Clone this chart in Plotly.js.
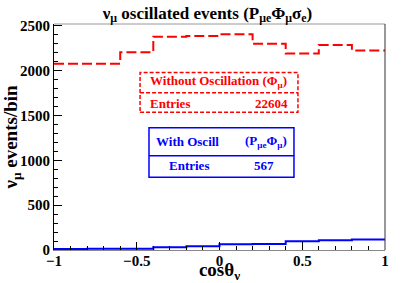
<!DOCTYPE html>
<html>
<head>
<meta charset="utf-8">
<script src="https://cdn.plot.ly/plotly-3.0.1.min.js"></script>
<style>html,body{margin:0;padding:0;background:#fff;}#plot{width:415px;height:283px;}</style>
</head>
<body>
<div id="plot"></div>
<script>
// bin edges in cos(theta_nu)
const binEdges = [-1, -0.8, -0.6, -0.4, -0.2, 0, 0.2, 0.4, 0.6, 0.8, 1];
// Without oscillation (Phi_mu), events per bin
const noOscCounts = [2076, 2076, 2205, 2378, 2385, 2405, 2300, 2190, 2285, 2225];
// With oscillation (P_mue Phi_mu), events per bin
const oscCounts = [12, 13, 15, 31, 42, 65, 66, 98, 109, 117];
const noOscEntries = "22604";
const oscEntries = "567";

function stepY(counts){ return counts.concat([counts[counts.length-1]]); }

const F = "Liberation Serif";

const traces = [
  {x: binEdges, y: stepY(noOscCounts), type: 'scatter', mode: 'lines',
   line: {shape: 'hv', color: '#ff0000', width: 2, dash: '10px,4px'}, hoverinfo: 'skip'},
  {x: binEdges, y: stepY(oscCounts), type: 'scatter', mode: 'lines',
   line: {shape: 'hv', color: '#0000ff', width: 2}, hoverinfo: 'skip'}
];

function fnt(size, color){ return {family: F, size: size, color: color || '#000', weight: 'bold'}; }

const layout = {
  width: 415, height: 283,
  margin: {l: 54, r: 30, t: 24, b: 33},
  paper_bgcolor: '#fff', plot_bgcolor: '#fff',
  showlegend: false,
  font: {family: F, color: '#000'},
  title: {text: 'ν<sub>μ</sub> oscillated events (P<sub>μe</sub>Φ<sub>μ</sub>σ<sub>e</sub>)',
          font: fnt(17), x: 0.5, xanchor: 'center', yref: 'container', y: 0.955, yanchor: 'middle'},
  xaxis: {range: [-1, 1], showgrid: false, zeroline: false, showline: true, linecolor: '#888', linewidth: 1,
          ticks: 'inside', ticklen: 8, tickcolor: '#000', dtick: 0.5, tick0: 0,
          minor: {ticks: 'inside', ticklen: 4, dtick: 0.1, tickcolor: '#000'},
          tickfont: fnt(15), ticklabelstandoff: -3,
          title: {text: 'cosθ<sub>ν</sub>', font: fnt(19), standoff: 2}},
  yaxis: {range: [0, 2520], showgrid: false, zeroline: false, showline: true, linecolor: '#000', linewidth: 1,
          ticks: 'inside', ticklen: 8, tickcolor: '#000', dtick: 500, tick0: 0,
          minor: {ticks: 'inside', ticklen: 4, dtick: 100, tickcolor: '#000'},
          tickfont: fnt(15),
          title: {text: 'ν<sub>μ</sub> events/bin', font: fnt(19), standoff: 4}},
  shapes: [
    {type: 'line', xref: 'paper', yref: 'paper', x0: 0, x1: 1, y0: 1, y1: 1, line: {color: '#999', width: 1}},
    {type: 'line', xref: 'paper', yref: 'paper', x0: 1, x1: 1, y0: 0, y1: 1, line: {color: '#333', width: 1}},
    {type: 'rect', xref: 'paper', yref: 'paper', x0: 0.260, x1: 0.737, y0: 0.609, y1: 0.785,
     line: {color: '#ff0000', width: 1.5, dash: '4px,2px'}, fillcolor: '#fff'},
    {type: 'line', xref: 'paper', yref: 'paper', x0: 0.260, x1: 0.737, y0: 0.696, y1: 0.696,
     line: {color: '#ff0000', width: 1.5, dash: '4px,2px'}},
    {type: 'rect', xref: 'paper', yref: 'paper', x0: 0.287, x1: 0.725, y0: 0.322, y1: 0.541,
     line: {color: '#0000ff', width: 1.5}, fillcolor: '#fff'},
    {type: 'line', xref: 'paper', yref: 'paper', x0: 0.287, x1: 0.725, y0: 0.417, y1: 0.417,
     line: {color: '#0000ff', width: 1.5}}
  ],
  annotations: [
    {xref: 'paper', yref: 'paper', x: 0.283, y: 0.745, xanchor: 'left', yanchor: 'middle', showarrow: false,
     text: 'Without Oscillation (Φ<sub>μ</sub>)', font: fnt(13, '#ff0000')},
    {xref: 'paper', yref: 'paper', x: 0.285, y: 0.649, xanchor: 'left', yanchor: 'middle', showarrow: false,
     text: 'Entries', font: fnt(13, '#ff0000')},
    {xref: 'paper', yref: 'paper', x: 0.713, y: 0.649, xanchor: 'right', yanchor: 'middle', showarrow: false,
     text: noOscEntries, font: fnt(13, '#ff0000')},
    {xref: 'paper', yref: 'paper', x: 0.303, y: 0.479, xanchor: 'left', yanchor: 'middle', showarrow: false,
     text: 'With Oscill', font: fnt(13, '#0000ff')},
    {xref: 'paper', yref: 'paper', x: 0.710, y: 0.479, xanchor: 'right', yanchor: 'middle', showarrow: false,
     text: '(P<sub>μe</sub>Φ<sub>μ</sub>)', font: fnt(13, '#0000ff')},
    {xref: 'paper', yref: 'paper', x: 0.341, y: 0.372, xanchor: 'left', yanchor: 'middle', showarrow: false,
     text: 'Entries', font: fnt(13, '#0000ff')},
    {xref: 'paper', yref: 'paper', x: 0.670, y: 0.372, xanchor: 'right', yanchor: 'middle', showarrow: false,
     text: oscEntries, font: fnt(13, '#0000ff')}
  ]
};

Plotly.newPlot('plot', traces, layout, {staticPlot: true, displayModeBar: false});
</script>
</body>
</html>
